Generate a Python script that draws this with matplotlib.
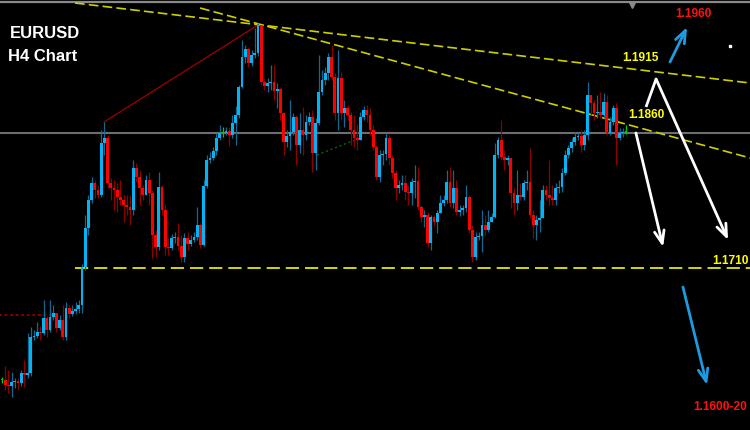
import matplotlib
matplotlib.use("Agg")
import matplotlib.pyplot as plt

plt.rcParams['lines.scale_dashes'] = False

# EURUSD H4 candles (open of each bar = previous close)
first_open = 1.1598
closes = [1.1598, 1.1593, 1.1592, 1.1596, 1.1597, 1.1595, 1.1605, 1.1603, 1.1605, 1.1641,
          1.1642, 1.1646, 1.1645, 1.1660, 1.1648, 1.1661, 1.1665, 1.1650, 1.1658, 1.1641,
          1.1670, 1.1664, 1.1667, 1.1669, 1.1673, 1.1711, 1.1750, 1.1778, 1.1795, 1.1788,
          1.1783, 1.1835, 1.1840, 1.1795, 1.1790, 1.1788, 1.1781, 1.1778, 1.1773, 1.1771,
          1.1768, 1.1810, 1.1801, 1.1790, 1.1783, 1.1798, 1.1785, 1.1743, 1.1731, 1.1791,
          1.1768, 1.1731, 1.1730, 1.1740, 1.1741, 1.1732, 1.1721, 1.1740, 1.1734, 1.1738,
          1.1741, 1.1753, 1.1733, 1.1792, 1.1818, 1.1820, 1.1827, 1.1840, 1.1845, 1.1845,
          1.1847, 1.1843, 1.1855, 1.1863, 1.1891, 1.1921, 1.1929, 1.1915, 1.1923, 1.1925,
          1.1953, 1.1896, 1.1892, 1.1895, 1.1896, 1.1887, 1.1889, 1.1865, 1.1836, 1.1842,
          1.1846, 1.1861, 1.1833, 1.1848, 1.1843, 1.1856, 1.1861, 1.1825, 1.1855, 1.1886,
          1.1898, 1.1905, 1.1921, 1.1901, 1.1865, 1.1900, 1.1865, 1.1870, 1.1863, 1.1848,
          1.1840, 1.1838, 1.1861, 1.1868, 1.1863, 1.1848, 1.1831, 1.1801, 1.1823, 1.1824,
          1.1840, 1.1820, 1.1805, 1.1790, 1.1793, 1.1795, 1.1786, 1.1785, 1.1796, 1.1797,
          1.1771, 1.1761, 1.1763, 1.1735, 1.1761, 1.1756, 1.1765, 1.1775, 1.1778, 1.1796,
          1.1775, 1.1790, 1.1766, 1.1768, 1.1770, 1.1781, 1.1748, 1.1721, 1.1741, 1.1742,
          1.1753, 1.1748, 1.1756, 1.1761, 1.1823, 1.1838, 1.1821, 1.1818, 1.1820, 1.1785,
          1.1775, 1.1783, 1.1781, 1.1795, 1.1796, 1.1763, 1.1753, 1.1758, 1.1760, 1.1788,
          1.1783, 1.1780, 1.1778, 1.1790, 1.1791, 1.1805, 1.1823, 1.1830, 1.1836, 1.1841,
          1.1842, 1.1833, 1.1843, 1.1883, 1.1875, 1.1865, 1.1866, 1.1863, 1.1876, 1.1845,
          1.1856, 1.1870, 1.1840, 1.1845, 1.1846, 1.1846]
highs = [1.1601, 1.1612, 1.1608, 1.1606, 1.1600, 1.1600, 1.1608, 1.1618, 1.1645, 1.1651,
         1.1648, 1.1656, 1.1652, 1.1678, 1.1662, 1.1678, 1.1673, 1.1665, 1.1663, 1.1673,
         1.1676, 1.1673, 1.1673, 1.1676, 1.1678, 1.1714, 1.1763, 1.1783, 1.1801, 1.1798,
         1.1793, 1.1848, 1.1856, 1.1843, 1.1800, 1.1798, 1.1795, 1.1798, 1.1783, 1.1783,
         1.1783, 1.1818, 1.1815, 1.1808, 1.1793, 1.1803, 1.1806, 1.1788, 1.1748, 1.1806,
         1.1793, 1.1773, 1.1740, 1.1744, 1.1746, 1.1755, 1.1743, 1.1745, 1.1746, 1.1743,
         1.1746, 1.1771, 1.1755, 1.1798, 1.1823, 1.1826, 1.1831, 1.1845, 1.1853, 1.1851,
         1.1851, 1.1851, 1.1863, 1.1872, 1.1893, 1.1938, 1.1933, 1.1931, 1.1928, 1.1950,
         1.1955, 1.1953, 1.1900, 1.1900, 1.1913, 1.1913, 1.1895, 1.1891, 1.1866, 1.1848,
         1.1878, 1.1865, 1.1863, 1.1865, 1.1871, 1.1863, 1.1866, 1.1868, 1.1860, 1.1923,
         1.1908, 1.1911, 1.1925, 1.1933, 1.1905, 1.1928, 1.1906, 1.1878, 1.1873, 1.1866,
         1.1863, 1.1854, 1.1866, 1.1872, 1.1873, 1.1870, 1.1853, 1.1833, 1.1828, 1.1828,
         1.1845, 1.1843, 1.1823, 1.1808, 1.1798, 1.1803, 1.1803, 1.1793, 1.1800, 1.1813,
         1.1811, 1.1773, 1.1768, 1.1766, 1.1763, 1.1763, 1.1768, 1.1783, 1.1783, 1.1808,
         1.1811, 1.1808, 1.1798, 1.1773, 1.1773, 1.1793, 1.1783, 1.1753, 1.1746, 1.1746,
         1.1768, 1.1763, 1.1768, 1.1765, 1.1835, 1.1841, 1.1858, 1.1828, 1.1823, 1.1820,
         1.1790, 1.1808, 1.1795, 1.1798, 1.1808, 1.1830, 1.1768, 1.1763, 1.1778, 1.1793,
         1.1793, 1.1818, 1.1793, 1.1795, 1.1798, 1.1810, 1.1828, 1.1833, 1.1840, 1.1846,
         1.1845, 1.1848, 1.1848, 1.1896, 1.1883, 1.1878, 1.1883, 1.1886, 1.1885, 1.1883,
         1.1861, 1.1873, 1.1875, 1.1850, 1.1850, 1.1853]
lows = [1.1595, 1.1588, 1.1585, 1.1581, 1.1590, 1.1588, 1.1592, 1.1591, 1.1600, 1.1602,
        1.1638, 1.1640, 1.1638, 1.1643, 1.1641, 1.1646, 1.1658, 1.1646, 1.1648, 1.1638,
        1.1638, 1.1660, 1.1662, 1.1664, 1.1665, 1.1665, 1.1708, 1.1743, 1.1775, 1.1780,
        1.1780, 1.1781, 1.1823, 1.1790, 1.1778, 1.1768, 1.1766, 1.1773, 1.1756, 1.1763,
        1.1753, 1.1763, 1.1796, 1.1773, 1.1778, 1.1783, 1.1773, 1.1720, 1.1721, 1.1728,
        1.1763, 1.1723, 1.1723, 1.1728, 1.1735, 1.1728, 1.1716, 1.1716, 1.1728, 1.1732,
        1.1736, 1.1738, 1.1730, 1.1732, 1.1790, 1.1815, 1.1818, 1.1823, 1.1838, 1.1841,
        1.1843, 1.1832, 1.1840, 1.1833, 1.1860, 1.1890, 1.1915, 1.1911, 1.1912, 1.1920,
        1.1922, 1.1893, 1.1888, 1.1886, 1.1888, 1.1878, 1.1870, 1.1858, 1.1823, 1.1831,
        1.1828, 1.1843, 1.1813, 1.1825, 1.1823, 1.1838, 1.1853, 1.1806, 1.1808, 1.1853,
        1.1883, 1.1893, 1.1898, 1.1898, 1.1858, 1.1848, 1.1858, 1.1851, 1.1858, 1.1833,
        1.1831, 1.1828, 1.1838, 1.1858, 1.1856, 1.1843, 1.1828, 1.1798, 1.1796, 1.1813,
        1.1818, 1.1813, 1.1800, 1.1778, 1.1785, 1.1788, 1.1778, 1.1773, 1.1773, 1.1780,
        1.1768, 1.1756, 1.1751, 1.1731, 1.1728, 1.1752, 1.1745, 1.1768, 1.1772, 1.1775,
        1.1771, 1.1770, 1.1763, 1.1762, 1.1763, 1.1766, 1.1745, 1.1716, 1.1718, 1.1738,
        1.1726, 1.1743, 1.1746, 1.1756, 1.1760, 1.1820, 1.1818, 1.1808, 1.1813, 1.1770,
        1.1763, 1.1768, 1.1778, 1.1778, 1.1788, 1.1760, 1.1740, 1.1738, 1.1746, 1.1768,
        1.1778, 1.1773, 1.1773, 1.1773, 1.1785, 1.1786, 1.1803, 1.1820, 1.1826, 1.1833,
        1.1838, 1.1826, 1.1828, 1.1838, 1.1863, 1.1858, 1.1860, 1.1860, 1.1860, 1.1843,
        1.1843, 1.1853, 1.1813, 1.1838, 1.1841, 1.1844]

# levels and labels
support = 1.1710
current = 1.1845
levels = [("1.1960", 210.3, 1.1964, "#FF1010"),
          ("1.1915", 193.8, 1.1920, "#FFFF00"),
          ("1.1860", 195.6, 1.1863, "#FFFF00"),
          ("1.1710", 221.9, 1.1717, "#FFFF00"),
          ("1.1600-20", 215.9, 1.1571, "#FF1010")]

# trendlines (bar index, price)
trend_upper = ([22.8, 233.8], [1.1975, 1.1895])
trend_lower = ([61.9, 233.8], [1.1970, 1.1820])
red_line = ([31.9, 80.0], [1.1856, 1.1953])
green_dots = ([98.4, 111.9], [1.1823, 1.1840])
red_dots = ([-1.0, 17.5], [1.1663, 1.1663])

bull_body, bull_wick = "#00B4F5", "#106A92"
bear_body, bear_wick = "#FF0000", "#8E0000"
doji = "#00D000"

fig = plt.figure(figsize=(7.5, 4.3), dpi=100, facecolor="black")
ax = fig.add_axes([0, 0, 1, 1])
ax.set_facecolor("black")
ax.set_xlim(-0.625, 233.75)
ax.set_ylim(1.1548, 1.1978)
ax.axis("off")

# horizontals
ax.axhline(1.1976, color="#8A8A8A", lw=1.6)
ax.axhline(current, color="#6E6E72", lw=1.5)
ax.plot([22.8, 240], [support, support], color="#E8E800", lw=1.3,
        linestyle=(0, (9.5, 4.3)))

ax.plot(*trend_upper, color="#CFCF00", lw=1.2, linestyle=(0, (7, 3)))
ax.plot(*trend_lower, color="#CFCF00", lw=1.2, linestyle=(0, (7, 3)))
ax.plot(*red_line, color="#A00000", lw=0.9)
ax.plot(*green_dots, color="#006A00", lw=1.0, linestyle=(0, (1.5, 2)))
ax.plot(*red_dots, color="#8E0000", lw=1.3, linestyle=(0, (2, 2)))

# candles
opens = [first_open] + closes[:-1]
for i, (o, h, l, c) in enumerate(zip(opens, highs, lows, closes)):
    if c > o:
        bc, wc = bull_body, bull_wick
    elif c < o:
        bc, wc = bear_body, bear_wick
    else:
        bc, wc = doji, doji
    top, bot = max(o, c), min(o, c)
    ax.vlines(i, min(l, bot), max(h, top), color=wc, lw=0.9, zorder=3)
    ax.bar(i, max(top - bot, 0.00008), bottom=bot, width=0.85, color=bc,
           linewidth=0, zorder=4)

# forecast arrows
white_arrow = dict(arrowstyle="->,head_length=0.9,head_width=0.35", color="white", lw=2.0,
                   shrinkA=0, shrinkB=0)
blue_arrow = dict(arrowstyle="->,head_length=0.9,head_width=0.35", color="#1E9BE0", lw=2.0,
                  shrinkA=0, shrinkB=0)
ax.plot([201.25, 204.4], [1.1871, 1.1899], color="white", lw=2.0, solid_capstyle="butt")
ax.annotate("", xy=(226.9, 1.1738), xytext=(204.4, 1.1899), arrowprops=white_arrow)
ax.annotate("", xy=(206.6, 1.1731), xytext=(198.1, 1.1845), arrowprops=white_arrow)
ax.annotate("", xy=(214.1, 1.1951), xytext=(208.75, 1.1916), arrowprops=blue_arrow)
ax.annotate("", xy=(220.3, 1.1593), xytext=(212.8, 1.1691), arrowprops=blue_arrow)

for txt, x, y, col in levels:
    ax.text(x, y, txt, color=col, fontsize=8.6, fontweight="bold",
            family="Liberation Sans", ha="left", va="center")

ax.plot([227.5], [1.1932], marker="s", ms=2, color="white", lw=0)
ax.plot([196.9], [1.1973], marker="v", ms=5, color="#8A8A8A", lw=0)

fig.text(0.0133, 0.923, "EURUSD", color="white", fontsize=12, fontweight="bold",
         family="Liberation Sans", va="center")
fig.text(0.0107, 0.869, "H4 Chart", color="white", fontsize=12, fontweight="bold",
         family="Liberation Sans", va="center")

fig.savefig("out.png", dpi=100, facecolor="black")
